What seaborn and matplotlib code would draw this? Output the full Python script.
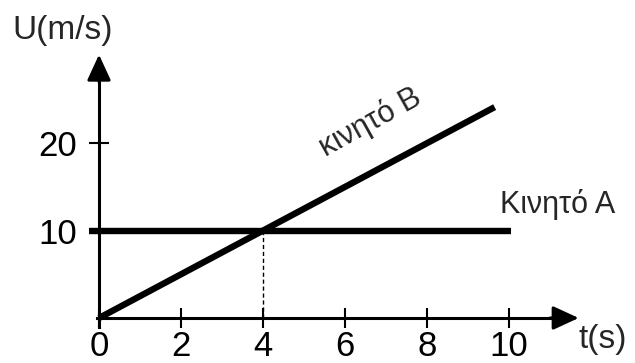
import matplotlib
matplotlib.use("Agg")
import matplotlib.pyplot as plt
import seaborn as sns
import pandas as pd

# Data
t_A = [-0.25, 10.05]
v_A = [10, 10]
t_B = [0, 9.65]
v_B = [0, 24.1]
x_ticks = [0, 2, 4, 6, 8, 10]
y_ticks = [10, 20]
label_A = "Κινητό Α"
label_B = "κινητό Β"
x_label = "t(s)"
y_label = "U(m/s)"

sns.set_theme(style="white")
plt.rcParams['font.family'] = ['Liberation Sans', 'DejaVu Sans']

fig = plt.figure(figsize=(6.35, 3.63), dpi=100)
ax = fig.add_axes([0, 0, 1, 1])

# pixel mapping: x0=99px, 41 px/unit ; y0=318px, 8.75 px/unit
ax.set_xlim(-99 / 41, (635 - 99) / 41)
ax.set_ylim(-(363 - 318) / 8.75, 318 / 8.75)

dfA = pd.DataFrame({"t": t_A, "v": v_A})
dfB = pd.DataFrame({"t": t_B, "v": v_B})
sns.lineplot(data=dfA, x="t", y="v", ax=ax, color="black", lw=4.6,
             solid_capstyle="butt")
sns.lineplot(data=dfB, x="t", y="v", ax=ax, color="black", lw=4.6,
             solid_capstyle="butt")

# dashed guide at t=4
ax.plot([4, 4], [0, 10], color="black", lw=1, ls=(0, (3, 2)))

# spines as axes
for s in ["top", "right"]:
    ax.spines[s].set_visible(False)
ax.spines["left"].set_position(("data", 0))
ax.spines["bottom"].set_position(("data", 0))
ax.spines["left"].set_bounds(-1.0, 28.0)
ax.spines["bottom"].set_bounds(-0.06, 11.3)
for s in ["left", "bottom"]:
    ax.spines[s].set_linewidth(2.2)
    ax.spines[s].set_color("black")

# arrow heads
ax.annotate("", xy=(0, 30.1), xytext=(0, 27.0),
            arrowprops=dict(arrowstyle="-|>,head_length=0.63,head_width=0.29",
                            lw=2.2, color="black", shrinkA=0, shrinkB=0,
                            mutation_scale=25))
ax.annotate("", xy=(11.7, 0), xytext=(11.0, 0),
            arrowprops=dict(arrowstyle="-|>,head_length=0.63,head_width=0.29",
                            lw=2.2, color="black", shrinkA=0, shrinkB=0,
                            mutation_scale=25))

ax.set_xticks(x_ticks)
ax.set_xticklabels([str(v) for v in x_ticks])
ax.set_yticks(y_ticks)
ax.set_yticklabels([str(v) for v in y_ticks])
ax.tick_params(axis="both", direction="inout", length=14, width=1.5,
               colors="black", labelsize=25)
ax.tick_params(axis="x", pad=2, bottom=True)
ax.tick_params(axis="y", pad=9, left=True)
ax.set_xlabel("")
ax.set_ylabel("")
ax.grid(False)

ax.text(-0.88, 32.9, y_label, fontsize=24, ha="center", va="center")
ax.text(12.29, -2.5, x_label, fontsize=24, ha="center", va="center")
ax.text(9.78, 13.0, label_A, fontsize=22, ha="left", va="center")
ax.text(6.61, 22.3, label_B, fontsize=22, ha="center", va="center",
        rotation=29, rotation_mode="anchor")

fig.savefig("out.png", dpi=100)
